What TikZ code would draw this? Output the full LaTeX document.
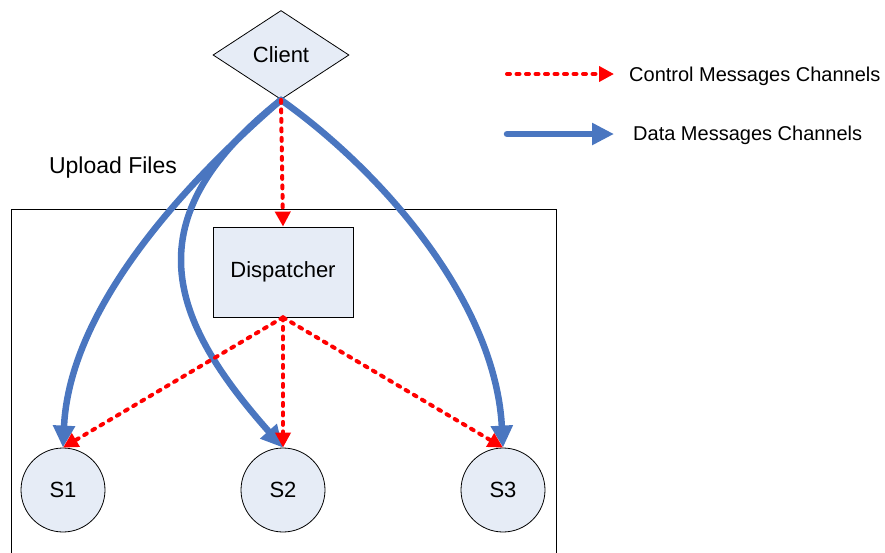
\documentclass[tikz,border=0pt]{standalone}
\usepackage{fontspec}
\setmainfont{Liberation Sans}
\usetikzlibrary{shapes.geometric,arrows.meta}
\definecolor{nodefill}{HTML}{E6ECF6}
\definecolor{datablue}{HTML}{4A76C0}
\definecolor{ctrlred}{HTML}{FF0000}
\tikzset{
  lbl/.style={font=\fontsize{22}{26}\selectfont},
  legtext/.style={font=\fontsize{20}{24}\selectfont, anchor=west, inner sep=0pt},
  server/.style={circle, draw=black, line width=0.8pt, fill=nodefill, minimum size=84pt, inner sep=0pt, lbl},
  ctrl/.style={draw=ctrlred, line width=4pt, line cap=round, dash pattern=on 3pt off 6.5pt, -{Triangle[length=15pt,width=15pt]}},
  data/.style={draw=datablue, line width=6.5pt, line cap=round, -{Triangle[length=22pt,width=21pt]}},
}
\begin{document}
\begin{tikzpicture}[x=1pt,y=-1pt]
\useasboundingbox (0,0) rectangle (885,552);
\draw[line width=0.8pt] (11,209) rectangle (556,570);
\node[diamond, draw=black, line width=0.8pt, fill=nodefill, minimum width=136pt, minimum height=89pt, inner sep=0pt, lbl] (client) at (281,55) {Client};
\node[rectangle, draw=black, line width=0.8pt, fill=nodefill, minimum width=140pt, minimum height=90pt, inner sep=0pt, lbl] (disp) at (283,272) {Dispatcher};
\node[server] (s1) at (63,490) {S1};
\node[server] (s2) at (283,490) {S2};
\node[server] (s3) at (503,490) {S3};
\node[inner sep=0pt, font=\fontsize{23}{27}\selectfont] (upload) at (113,168) {Upload Files};
% data channels
\draw[data] (client.south) .. controls (200,170) and (70,300) .. (s1.north);
\draw[data] (client.south) .. controls (130,220) and (170,320) .. (s2.north);
\draw[data] (client.south) .. controls (380,170) and (495,300) .. (s3.north);
% control channels
\draw[ctrl] (client.south) -- (disp.north);
\draw[ctrl] (disp.south) -- (s1.north);
\draw[ctrl] (disp.south) -- (s2.north);
\draw[ctrl] (disp.south) -- (s3.north);
% legend
\coordinate (lc1) at (507,74);
\coordinate (lc2) at (614,74);
\coordinate (ld1) at (507,134);
\coordinate (ld2) at (614,134);
\draw[ctrl] (lc1) -- (lc2);
\draw[data] (ld1) -- (ld2);
\node[legtext] (lct) at (629,76) {Control Messages Channels};
\node[legtext] (ldt) at (633,135) {Data Messages Channels};
\end{tikzpicture}
\end{document}
